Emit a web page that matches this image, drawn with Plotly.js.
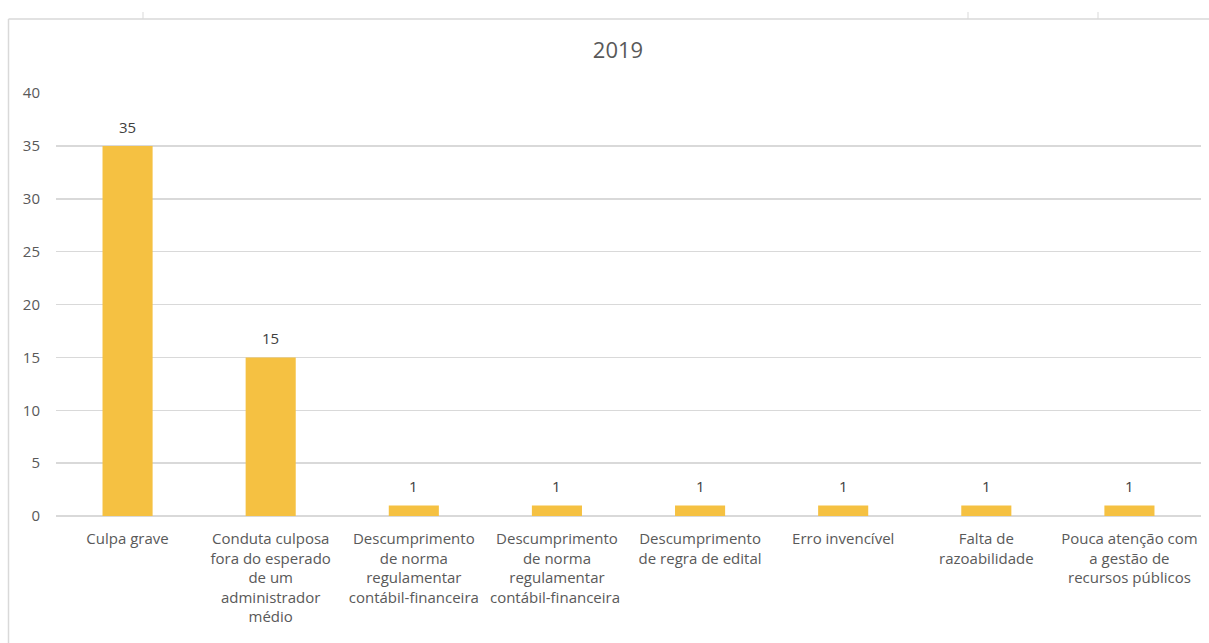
<!DOCTYPE html>
<html>
<head>
<meta charset="utf-8">
<script src="https://cdn.plot.ly/plotly-3.0.1.min.js"></script>
<style>html,body{margin:0;padding:0;background:#fff;}#chart{width:1209px;height:643px;}</style>
</head>
<body>
<div id="chart"></div>
<script>
const categories = [
  "Culpa grave",
  "Conduta culposa<br>fora do esperado<br>de um<br>administrador<br>médio",
  "Descumprimento<br>de norma<br>regulamentar<br>contábil-financeira",
  "Descumprimento<br>de norma<br>regulamentar<br>contábil-financeira ",
  "Descumprimento<br>de regra de edital",
  "Erro invencível",
  "Falta de<br>razoabilidade",
  "Pouca atenção com<br>a gestão de<br>recursos públicos"
];
const values = [35, 15, 1, 1, 1, 1, 1, 1];
const yTicks = [0, 5, 10, 15, 20, 25, 30, 35, 40];
const chartTitle = "2019";

const W = 1209, H = 643;
const L = 56, R = 8, T = 93, B = 127;
const pw = W - L - R, ph = H - T - B;
function px(x){ return (x - L) / pw; }
function py(y){ return (H - B - y) / ph; }
const frameColor = "#D9D9D9";
const shapes = [
  {type:"line", xref:"paper", yref:"paper", x0:px(8.5), x1:px(8.5), y0:py(19), y1:py(660), line:{color:frameColor, width:1.5}},
  {type:"line", xref:"paper", yref:"paper", x0:px(8.5), x1:px(1215), y0:py(19), y1:py(19), line:{color:frameColor, width:1.5}},
  {type:"line", xref:"paper", yref:"paper", x0:px(143), x1:px(143), y0:py(12), y1:py(19), line:{color:frameColor, width:1}},
  {type:"line", xref:"paper", yref:"paper", x0:px(968), x1:px(968), y0:py(12), y1:py(19), line:{color:frameColor, width:1}},
  {type:"line", xref:"paper", yref:"paper", x0:px(1098), x1:px(1098), y0:py(12), y1:py(19), line:{color:frameColor, width:1}}
];

const font = "Open Sans, Liberation Sans, sans-serif";
const trace = {
  type: "bar",
  x: categories,
  y: values,
  marker: {color: "#F5C142"},
  hoverinfo: "skip"
};

const annotations = categories.map((c, i) => ({
  x: c, y: values[i], xref: "x", yref: "y",
  text: String(values[i]), showarrow: false,
  xanchor: "center", yanchor: "bottom", yshift: 7,
  font: {family: font, size: 15, color: "#404040"}
}));

const layout = {
  width: W, height: H,
  margin: {l: L, r: R, t: T, b: B},
  paper_bgcolor: "#fff", plot_bgcolor: "#fff",
  showlegend: false,
  bargap: 0.65,
  title: {text: chartTitle, font: {family: font, size: 22, color: "#595959"},
          xref: "paper", x: px(618), xanchor: "center",
          yref: "container", y: 1 - 50/H, yanchor: "middle"},
  xaxis: {type: "category", tickfont: {family: font, size: 15, color: "#595959"},
          ticks: "outside", ticklen: 9, tickcolor: "rgba(0,0,0,0)",
          showgrid: false, showline: false, zeroline: false, tickangle: 0, automargin: false},
  yaxis: {range: [0, 40], tickvals: yTicks, ticktext: yTicks.map(String),
          tickfont: {family: font, size: 15, color: "#595959"},
          ticks: "outside", ticklen: 12, tickcolor: "rgba(0,0,0,0)",
          showgrid: true, gridcolor: "#D9D9D9", gridwidth: 1.5,
          zeroline: true, zerolinecolor: "#D9D9D9", zerolinewidth: 1.5,
          showline: false, automargin: false},
  shapes: shapes,
  annotations: annotations,
  font: {family: font, color: "#595959"}
};

Plotly.newPlot("chart", [trace], layout, {displayModeBar: false, staticPlot: true});
</script>
</body>
</html>
